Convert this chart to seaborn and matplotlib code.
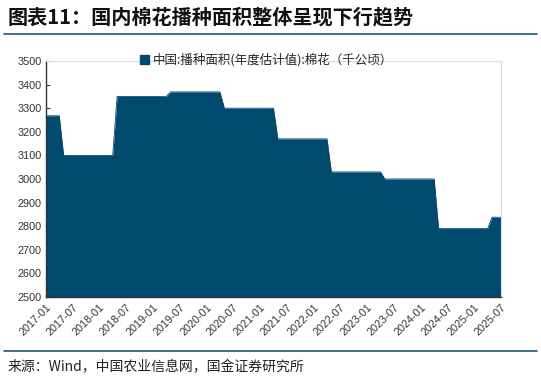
import matplotlib
matplotlib.use("Agg")
import matplotlib.pyplot as plt
from matplotlib.patches import Patch
from matplotlib.lines import Line2D
import seaborn as sns
import pandas as pd

title = "图表11：国内棉花播种面积整体呈现下行趋势"
series_name = "中国:播种面积(年度估计值):棉花（千公顷）"
source = "来源：Wind，中国农业信息网，国金证券研究所"

start_month = "2017-01"
end_month = "2025-07"
values = [
    3268, 3268, 3268, 3268,
    3100, 3100, 3100, 3100, 3100, 3100, 3100, 3100, 3100, 3100, 3100, 3100,
    3350, 3350, 3350, 3350, 3350, 3350, 3350, 3350, 3350, 3350, 3350, 3350,
    3369, 3369, 3369, 3369, 3369, 3369, 3369, 3369, 3369, 3369, 3369, 3369,
    3300, 3300, 3300, 3300, 3300, 3300, 3300, 3300, 3300, 3300, 3300, 3300,
    3170, 3170, 3170, 3170, 3170, 3170, 3170, 3170, 3170, 3170, 3170, 3170,
    3030, 3030, 3030, 3030, 3030, 3030, 3030, 3030, 3030, 3030, 3030, 3030,
    3000, 3000, 3000, 3000, 3000, 3000, 3000, 3000, 3000, 3000, 3000, 3000,
    2790, 2790, 2790, 2790, 2790, 2790, 2790, 2790, 2790, 2790, 2790, 2790,
    2838, 2838, 2838,
]
y_ticks = list(range(2500, 3501, 100))

color = "#004a6e"

sns.set_theme(style="white")
plt.rcParams["font.family"] = ["Liberation Sans", "Noto Sans CJK SC", "DejaVu Sans"]

dates = pd.date_range(start_month, end_month, freq="MS")
df = pd.DataFrame({"date": dates, "value": values})

fig = plt.figure(figsize=(5.41, 3.85), dpi=100)
ax = fig.add_axes([46 / 541, 1 - 297 / 385, (501 - 46) / 541, (297 - 61) / 385])

sns.lineplot(data=df, x="date", y="value", ax=ax, color=color, linewidth=0.6)
ax.fill_between(df["date"], df["value"], 2500, color=color, linewidth=0)

ax.set_xlim(dates[0], dates[-1])
ax.set_ylim(2500, 3500)
ax.set_yticks(y_ticks)
ax.set_xlabel("")
ax.set_ylabel("")

tick_dates = pd.date_range(start_month, end_month, freq="6MS")
ax.set_xticks(tick_dates)
ax.set_xticklabels([d.strftime("%Y-%m") for d in tick_dates], rotation=45,
                   ha="right", rotation_mode="anchor", fontsize=7.8, color="#333333")
for lab in ax.get_yticklabels():
    lab.set_fontsize(7.8)
    lab.set_color("#333333")

ax.tick_params(axis="both", direction="in", length=3, width=0.8, colors="#333333",
               left=True, bottom=True, pad=3)
ax.tick_params(axis="x", pad=4)

for s in ["left", "bottom"]:
    ax.spines[s].set_color("#333333")
    ax.spines[s].set_linewidth(1.0)
for s in ["top", "right"]:
    ax.spines[s].set_color("#dcdcdc")
    ax.spines[s].set_linewidth(0.8)
ax.grid(False)

ax.legend(handles=[Patch(facecolor=color, edgecolor=color, label=series_name)],
          loc="lower center", bbox_to_anchor=(0.485, 0.955), frameon=False,
          handlelength=0.7, handleheight=0.7, handletextpad=0.3,
          borderaxespad=0, prop={"family": ["Noto Sans CJK SC"], "size": 9})

fig.text(8 / 541, 1 - 17 / 385, title, fontsize=14.5, fontweight="bold",
         family=["Noto Sans CJK SC"], va="center", ha="left", color="#111111")
fig.add_artist(Line2D([4 / 541, 537 / 541], [1 - 34 / 385, 1 - 34 / 385],
                      color="#1f5a7a", linewidth=1.2))
fig.add_artist(Line2D([4 / 541, 537 / 541], [1 - 351 / 385, 1 - 351 / 385],
                      color="#1f5a7a", linewidth=1.2))
fig.text(8 / 541, 1 - 367 / 385, source, fontsize=10,
         family=["Noto Sans CJK SC"], va="center", ha="left", color="#222222")

fig.savefig("out.png", dpi=100)
